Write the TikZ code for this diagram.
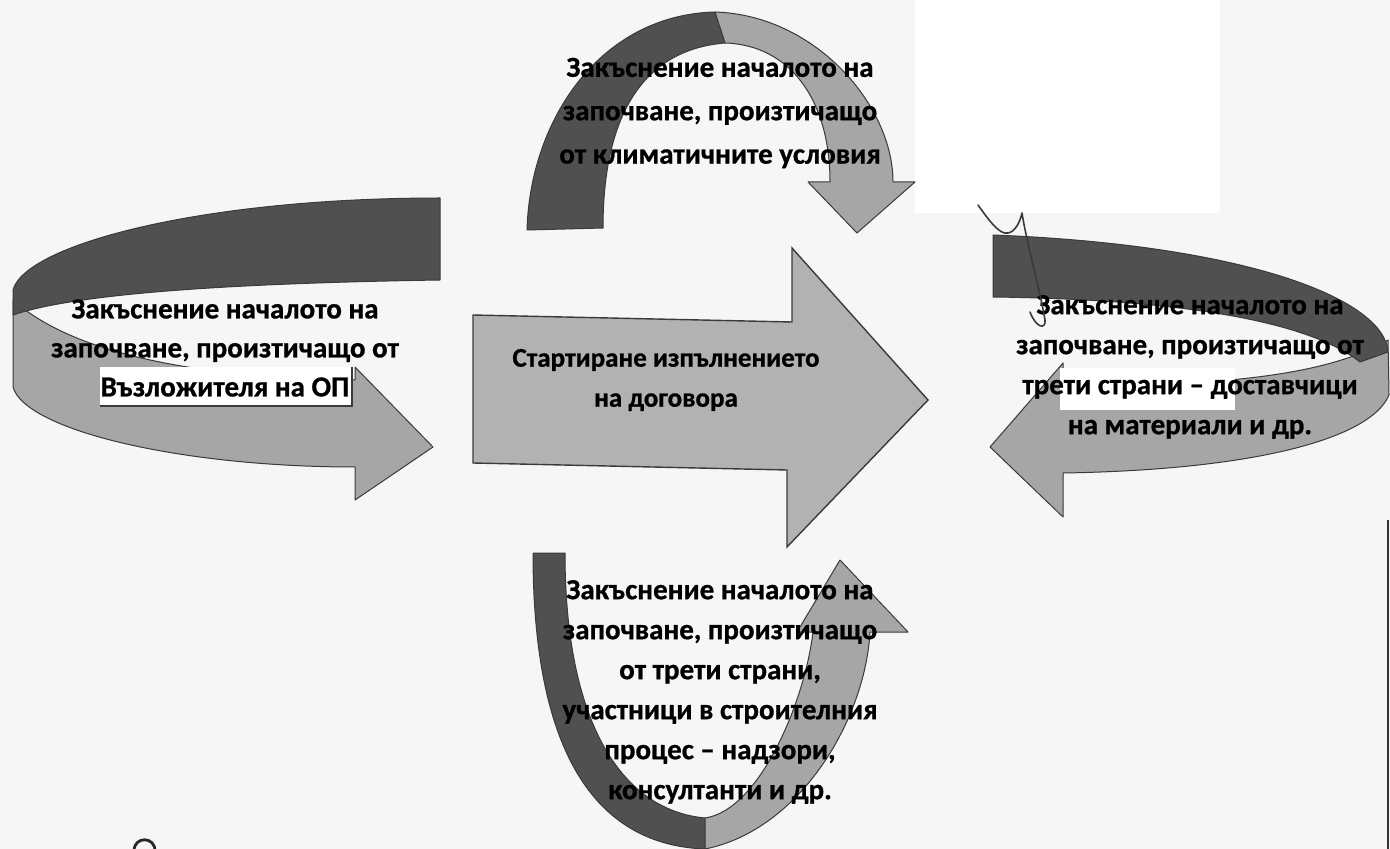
\documentclass[tikz,border=0pt]{standalone}
\usepackage{fontspec}
\setmainfont[BoldFeatures={FakeBold=0.8}]{Carlito}
\definecolor{paper}{HTML}{F6F6F6}
\definecolor{darkband}{HTML}{505050}
\definecolor{lightband}{HTML}{A6A6A6}
\definecolor{midfill}{HTML}{B2B2B2}
\definecolor{edgecol}{HTML}{3A3A3A}
\begin{document}
\begin{tikzpicture}[x=0.5pt,y=-0.5pt,
  bandD/.style={fill=darkband,draw=edgecol,line width=0.5pt,line join=round},
  bandL/.style={fill=lightband,draw=edgecol,line width=0.5pt,line join=round},
  bigarrow/.style={fill=midfill,draw=edgecol,line width=0.7pt,line join=miter},
  whitebox/.style={fill=white,draw=none},
  lbl/.style={font=\bfseries\fontsize{14.5}{20}\selectfont,align=center,text=black,inner sep=0pt}]
% page
\fill[paper] (0,0) rectangle (1390,849);
\useasboundingbox (0,0) rectangle (1390,849);
\fill[white] (915,0) rectangle (1220,213);

% central arrow
\draw[bigarrow] (473,315) -- (792,322) -- (792,248) -- (928,400) -- (787,547) -- (787,470) -- (473,463) -- cycle;

% left ribbon arrow
\draw[bandL] (13,300) -- (13,387) .. controls (25,430) and (180,467) .. (355,467)
  -- (355,500) -- (433,447) -- (355,367) -- (355,380)
  .. controls (220,378) and (80,360) .. (13,300) -- cycle;
\draw[bandD] (440,198) -- (440,280) .. controls (250,283) and (80,292) .. (13,315)
  -- (13,290) .. controls (25,245) and (200,198) .. (440,198) -- cycle;
\fill[whitebox] (100,367) rectangle (352,407);
\draw[edgecol,line width=0.6pt] (100,406) -- (352,406) -- (352,367);

% right ribbon arrow
\draw[bandL] (1388,340) -- (1389,395) .. controls (1370,440) and (1250,470) .. (1063,473)
  -- (1063,517) -- (990,447) -- (1063,363) -- (1063,387)
  .. controls (1200,385) and (1320,380) .. (1388,340) -- cycle;
\draw[bandD] (993,235) -- (993,297) .. controls (1150,299) and (1300,315) .. (1360,362)
  -- (1388,352) .. controls (1385,300) and (1250,245) .. (993,235) -- cycle;
\fill[whitebox] (1060,368) rectangle (1235,410);

% top arch arrow
\draw[bandD] (527,230) .. controls (530,120) and (600,15) .. (715,12) -- (725,43)
  .. controls (640,50) and (603,120) .. (603,228) -- cycle;
\draw[bandL] (715,12) .. controls (815,15) and (893,105) .. (893,182) -- (915,182) -- (857,233)
  -- (808,182) -- (830,182) .. controls (830,100) and (790,45) .. (725,43) -- cycle;

% bottom U arrow
\draw[bandD] (533,553) -- (565,553) .. controls (565,720) and (620,810) .. (705,818)
  -- (705,849) .. controls (600,845) and (533,760) .. (533,553) -- cycle;
\draw[bandL] (705,818) .. controls (760,810) and (805,700) .. (813,632) -- (797,632) -- (840,560)
  -- (908,632) -- (870,632) .. controls (865,720) and (800,830) .. (705,849) -- cycle;

% labels
\node[lbl,font=\bfseries\fontsize{13.5}{20}\selectfont] (center) at (666,380) {Стартиране изпълнението\\на договора};
\node[lbl,font=\bfseries\fontsize{14.5}{21.7}\selectfont] (top) at (720,113) {Закъснение началото на\\започване, произтичащо\\от климатичните условия};
\node[lbl,font=\bfseries\fontsize{14.5}{19.5}\selectfont] (left) at (225,348) {Закъснение началото на\\започване, произтичащо от\\Възложителя на ОП};
\node[lbl] (right) at (1190,367) {Закъснение началото на\\започване, произтичащо от\\трети страни – доставчици\\на материали и др.};
\node[lbl] (bottom) at (720,692) {Закъснение началото на\\започване, произтичащо\\от трети страни,\\участници в строителния\\процес – надзори,\\консултанти и др.};

% scan marks
\draw[edgecol,line width=0.8pt,line cap=round,line join=round]
  (978,205) .. controls (990,222) and (1000,235) .. (1008,233)
  .. controls (1015,232) and (1020,222) .. (1022,213)
  .. controls (1026,240) and (1040,290) .. (1045,320)
  .. controls (1046,330) and (1036,328) .. (1030,312);
\draw[black!80,line width=1pt] (1388,520) -- (1388,849);
\draw[black!85,line width=1.4pt] (134,851) .. controls (134,836) and (155,836) .. (155,851);
\end{tikzpicture}
\end{document}
